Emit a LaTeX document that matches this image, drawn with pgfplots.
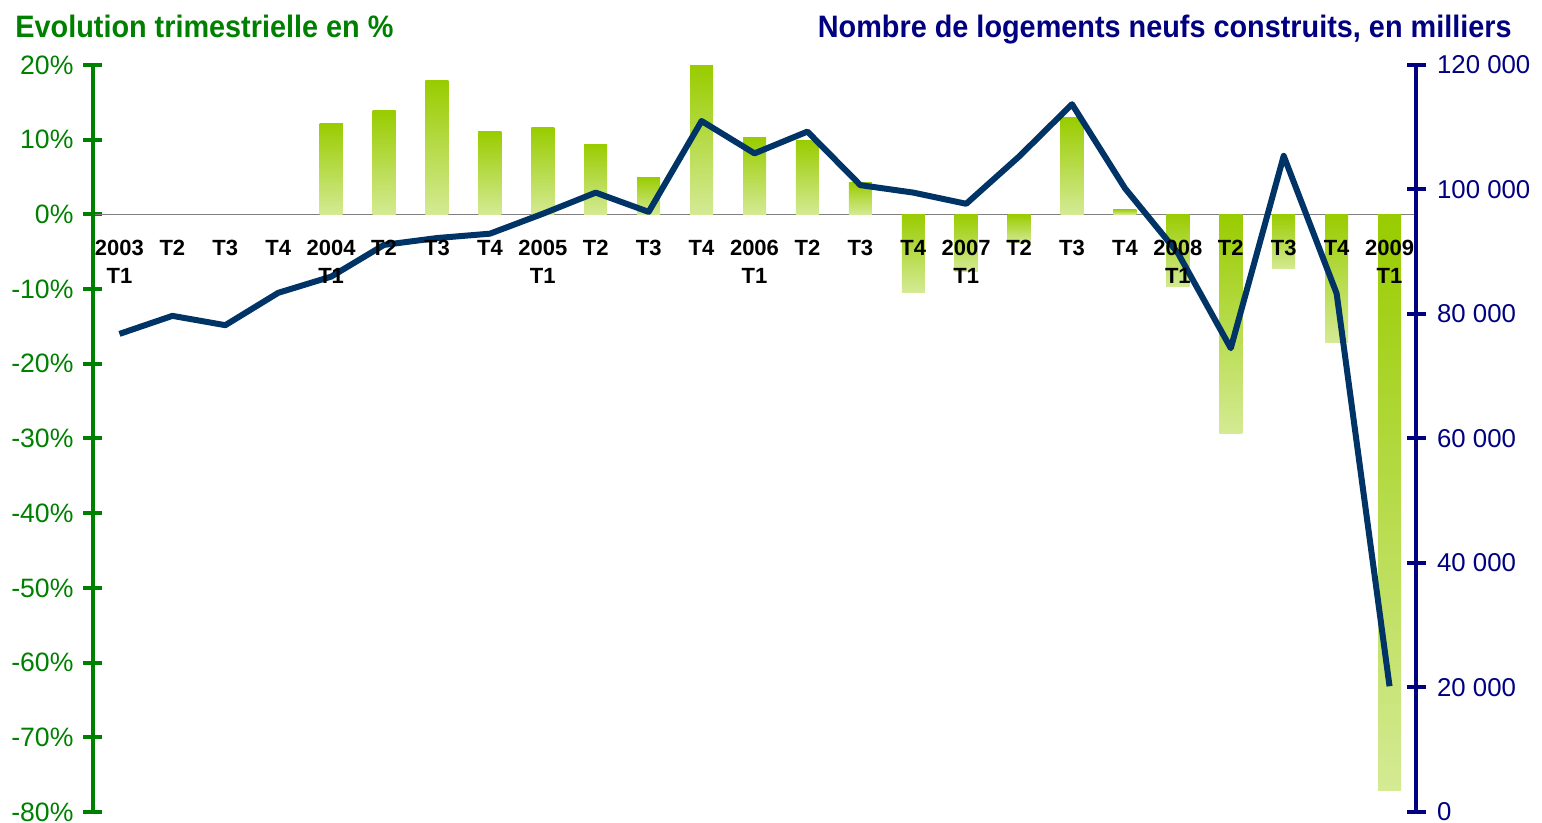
\documentclass[border=0pt]{standalone}
\usepackage{pgfplots}
\pgfplotsset{compat=1.18}
\usepackage{pgfplotstable}
\usepackage{fontspec}
\setmainfont{Liberation Sans}
\newfontfamily\titlefont{Liberation Sans}[FakeStretch=0.93]
\definecolor{axgreen}{RGB}{0,128,0}
\definecolor{axnavy}{RGB}{0,0,128}
\definecolor{linecol}{RGB}{0,51,102}
\definecolor{bardark}{RGB}{153,204,0}
\definecolor{barlight}{RGB}{212,234,148}

\pgfplotstableread{
x y
0 76800
1 79700
2 78200
3 83400
4 86000
5 91100
6 92200
7 92900
8 96100
9 99500
10 96400
11 111000
12 105800
13 109300
14 100700
15 99500
16 97700
17 105300
18 113700
19 100200
20 89800
21 74500
22 105400
23 83300
24 20200
}\logements

\begin{document}
\begin{tikzpicture}
\useasboundingbox (-46.5pt,-5.5pt) rectangle (724.5pt,406pt);
\begin{axis}[
  at={(0,0)}, anchor=south west, scale only axis,
  width=661.5pt, height=373.5pt,
  xmin=-0.5, xmax=24.5, ymin=-80, ymax=20,
  axis y line*=left, axis x line*=middle,
  x axis line style={-, draw=gray, line width=0.8pt},
  y axis line style={-, draw=axgreen, line width=2pt},
  xtick=\empty,
  minor xtick={-0.5,0.5,...,24.5},
  minor x tick style={black, line width=0.5pt},
  minor tick length=7pt,
  tick align=center,
  major tick length=9.5pt,
  ytick={-80,-70,-60,-50,-40,-30,-20,-10,0,10,20},
  yticklabels={-80\%,-70\%,-60\%,-50\%,-40\%,-30\%,-20\%,-10\%,0\%,10\%,20\%},
  ytick style={draw=axgreen, line width=2pt},
  yticklabel style={text=axgreen, font=\fontsize{13.3}{14}\selectfont, xshift=-1.5pt},
  ybar, bar width=11.5pt, bar shift=0pt,
  every axis plot/.append style={draw=none, top color=bardark, bottom color=barlight, forget plot},
]
\addplot coordinates {(4,12.2)};
\addplot coordinates {(5,13.9)};
\addplot coordinates {(6,17.9)};
\addplot coordinates {(7,11.1)};
\addplot coordinates {(8,11.6)};
\addplot coordinates {(9,9.4)};
\addplot coordinates {(10,5.0)};
\addplot coordinates {(11,19.9)};
\addplot coordinates {(12,10.3)};
\addplot coordinates {(13,9.9)};
\addplot coordinates {(14,4.3)};
\addplot coordinates {(15,-10.4)};
\addplot coordinates {(16,-7.7)};
\addplot coordinates {(17,-3.8)};
\addplot coordinates {(18,13.0)};
\addplot coordinates {(19,0.7)};
\addplot coordinates {(20,-9.7)};
\addplot coordinates {(21,-29.3)};
\addplot coordinates {(22,-7.3)};
\addplot coordinates {(23,-17.1)};
\addplot coordinates {(24,-77.1)};
\end{axis}
\begin{axis}[
  at={(0,0)}, anchor=south west, scale only axis,
  width=661.5pt, height=373.5pt,
  xmin=-0.5, xmax=24.5, ymin=0, ymax=120000,
  axis y line*=right, axis x line*=bottom,
  x axis line style={draw=none},
  y axis line style={-, draw=axnavy, line width=2pt},
  axis on top,
  xtick={0,...,24},
  xticklabels={{2003\\T1},T2,T3,T4,{2004\\T1},T2,T3,T4,{2005\\T1},T2,T3,T4,{2006\\T1},T2,T3,T4,{2007\\T1},T2,T3,T4,{2008\\T1},T2,T3,T4,{2009\\T1}},
  xtick style={draw=none},
  xticklabel style={align=center, font=\bfseries\fontsize{11}{14}\selectfont, yshift=294pt},
  tick align=center,
  major tick length=9.5pt,
  scaled y ticks=false,
  ytick={0,20000,40000,60000,80000,100000,120000},
  yticklabels={0,20 000,40 000,60 000,80 000,100 000,120 000},
  ytick style={draw=axnavy, line width=2pt},
  yticklabel style={text=axnavy, font=\fontsize{12.9}{14}\selectfont, xshift=2.25pt},
]
\addplot[linecol, line width=3pt, line join=round, no marks] table {\logements};
\end{axis}
\node[anchor=base west, text=axgreen, inner sep=0pt, font=\titlefont\bfseries\fontsize{15.5}{18}\selectfont] at (-39pt,387pt) {Evolution trimestrielle en \%};
\node[anchor=base east, text=axnavy, inner sep=0pt, font=\titlefont\bfseries\fontsize{15.5}{18}\selectfont] at (709.5pt,387pt) {Nombre de logements neufs construits, en milliers};
\end{tikzpicture}
\end{document}
